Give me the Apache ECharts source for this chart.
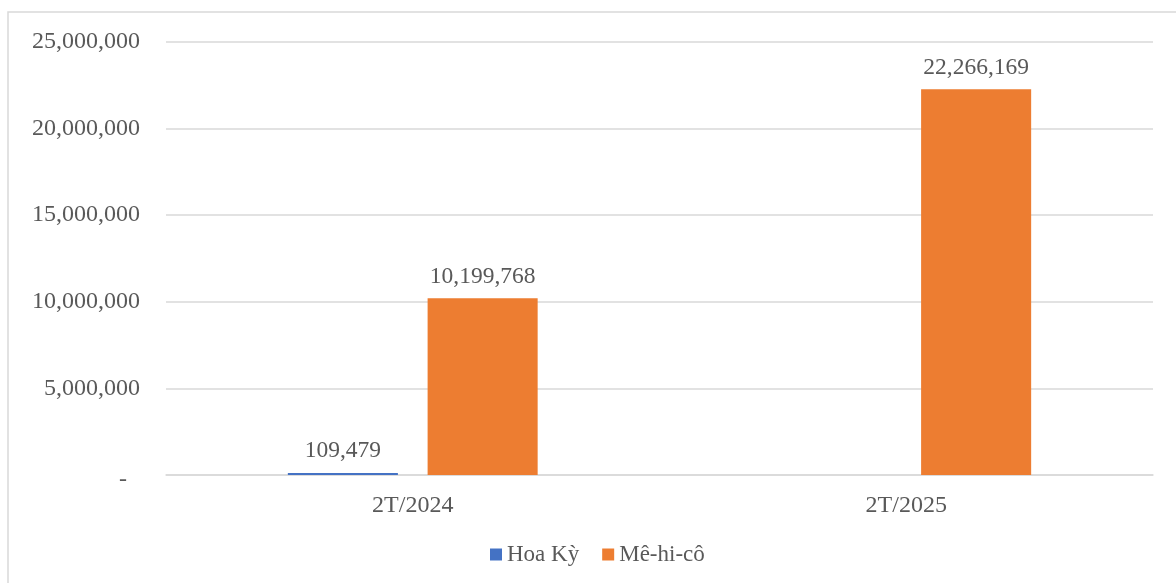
<!DOCTYPE html>
<html>
<head>
<meta charset="utf-8">
<script src="https://cdn.jsdelivr.net/npm/echarts@6/dist/echarts.min.js"></script>
<style>
  html, body { margin: 0; padding: 0; background: #fff; }
  #chart { width: 1176px; height: 583px; }
</style>
</head>
<body>
<div id="chart"></div>
<script>
// Periods and series values
const categories = ['2T/2024', '2T/2025'];
const seriesNames = ['Hoa Kỳ', 'Mê-hi-cô'];
const hoaKy = [109479, null];
const mexico = [10199768, 22266169];

const FONT = 'Liberation Serif';
const TEXT = '#595959';
const GRID = '#d9d9d9';

const fmt = v => Number(v).toLocaleString('en-US');

const chart = echarts.init(document.getElementById('chart'));

const dataLabel = {
  show: true,
  position: 'top',
  distance: 10,
  color: TEXT,
  fontFamily: FONT,
  fontSize: 23.5,
  formatter: p => fmt(p.value)
};

const legendText = { color: TEXT, fontFamily: FONT, fontSize: 23, fontWeight: 'normal' };

chart.setOption({
  animation: false,
  textStyle: { fontFamily: FONT },
  graphic: [{
    type: 'rect',
    shape: { x: 8, y: 12, width: 1400, height: 800 },
    style: { fill: 'none', stroke: GRID, lineWidth: 1.5 },
    silent: true,
    z: -1
  }],
  grid: { left: 166, right: 23, top: 42, bottom: 108, containLabel: false },
  legend: {
    data: seriesNames.map(n => ({ name: n, icon: 'rect', textStyle: legendText })),
    bottom: 12,
    left: 485,
    itemWidth: 12,
    itemHeight: 12,
    itemGap: 23,
    textStyle: legendText
  },
  xAxis: {
    type: 'category',
    data: categories,
    axisLine: { show: true, lineStyle: { color: GRID, width: 1.5 } },
    axisTick: { show: false },
    axisLabel: { color: TEXT, fontFamily: FONT, fontSize: 24, margin: 19 }
  },
  yAxis: {
    type: 'value',
    min: 0,
    max: 25000000,
    interval: 5000000,
    axisLine: { show: false },
    axisTick: { show: false },
    splitLine: { lineStyle: { color: GRID, width: 1.5 } },
    axisLabel: {
      color: TEXT,
      fontFamily: FONT,
      fontSize: 24,
      margin: 26,
      formatter: v => v === 0 ? '{z|-}' : fmt(v),
      rich: { z: { color: TEXT, fontFamily: FONT, fontSize: 24, padding: [10, 13, 0, 0] } }
    }
  },
  series: [
    {
      name: seriesNames[0],
      type: 'bar',
      data: hoaKy,
      barWidth: '22.3%',
      barGap: '27%',
      itemStyle: { color: '#4472C4' },
      label: dataLabel
    },
    {
      name: seriesNames[1],
      type: 'bar',
      data: mexico,
      barWidth: '22.3%',
      barGap: '27%',
      itemStyle: { color: '#ED7D31' },
      label: dataLabel
    }
  ]
});
</script>
</body>
</html>
